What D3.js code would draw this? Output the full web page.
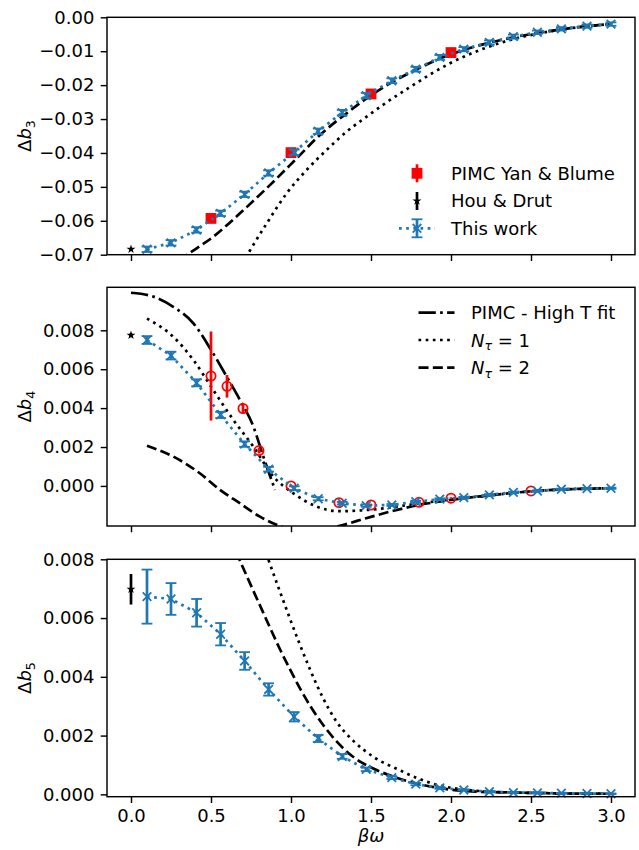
<!DOCTYPE html>
<html>
<head>
<meta charset="utf-8">
<script src="https://cdn.jsdelivr.net/npm/d3@7"></script>
<style>
  body { margin: 0; background: #fff; }
  svg { display: block; font-family: "DejaVu Sans", sans-serif; }
</style>
</head>
<body>
<svg id="chart" width="639" height="850"></svg>
<script>
// --- data ---
var betaOmega = [0.1, 0.25, 0.41, 0.56, 0.71, 0.86, 1.02, 1.17, 1.32, 1.47, 1.63, 1.78, 1.93, 2.08, 2.24, 2.39, 2.54, 2.69, 2.85, 3.0];

var thisWorkB3 = [-0.0684, -0.0665, -0.0627, -0.0578, -0.0522, -0.0459, -0.0398, -0.0336, -0.0281, -0.0231, -0.0187, -0.0153, -0.0118, -0.0094, -0.0074, -0.0057, -0.0044, -0.0034, -0.0026, -0.0020];
var thisWorkB3Err = [0.0008, 0.0008, 0.0008, 0.0008, 0.0008, 0.0008, 0.0008, 0.0008, 0.0008, 0.0008, 0.0007, 0.0007, 0.0007, 0.0006, 0.0006, 0.0006, 0.0005, 0.0005, 0.0005, 0.0005];
var thisWorkB4 = [0.0075, 0.0067, 0.0053, 0.00365, 0.00215, 0.00086, -0.00012, -0.00066, -0.00089, -0.00101, -0.00098, -0.00081, -0.00068, -0.0006, -0.00046, -0.00033, -0.00026, -0.00017, -0.00014, -0.00012];
var thisWorkB4Err = [0.0002, 0.0002, 0.00018, 0.00016, 0.00014, 0.00012, 0.0001, 0.00008, 0.00007, 0.00006, 0.00005, 0.00005, 0.00004, 0.00004, 0.00004, 0.00003, 0.00003, 0.00003, 0.00003, 0.00003];
var thisWorkB5 = [0.00673, 0.00665, 0.00618, 0.00545, 0.00454, 0.00357, 0.00264, 0.0019, 0.00129, 0.00085, 0.00057, 0.00035, 0.00022, 0.00015, 0.00009, 0.00006, 0.00005, 0.00004, 0.00003, 0.00002];
var thisWorkB5Err = [0.00092, 0.00054, 0.00047, 0.00038, 0.0003, 0.00021, 0.00016, 0.00012, 0.00008, 0.00006, 0.00005, 0.00004, 0.00003, 0.00002, 0.00002, 0.00001, 0.00001, 0.00001, 0.00001, 0.00001];

// Hou & Drut (beta omega = 0)
var houX = [0];
var houB3 = [-0.0684], houB3Err = [0.0003];
var houB4 = [0.00775], houB4Err = [0.0001];
var houB5 = [0.00698], houB5Err = [0.00052];

// PIMC Yan & Blume
var pimcX3 = [0.5, 1.0, 1.5, 2.0];
var pimcB3 = [-0.0593, -0.0399, -0.0226, -0.0104];
var pimcB3Err = [0.0003, 0.0003, 0.0003, 0.0003];
var pimcX4 = [0.5, 0.6, 0.7, 0.8, 1.0, 1.3, 1.5, 1.8, 2.0, 2.5];
var pimcB4 = [0.00565, 0.00512, 0.00398, 0.00182, 0.0, -0.00086, -0.00098, -0.00084, -0.00063, -0.00026];
var pimcB4Err = [0.00229, 0.00058, 0.00025, 0.00015, 0.00006, 0.00005, 0.00005, 0.00005, 0.00005, 0.00005];

// PIMC - High T fit (b4)
var fitX4 = [0.0, 0.14, 0.264, 0.39, 0.494, 0.598, 0.681, 0.765, 0.827, 0.9];
var fitB4 = [0.00993, 0.00973, 0.00921, 0.00836, 0.00708, 0.00562, 0.00442, 0.00305, 0.00151, -0.0002];

// N_tau = 1
var nt1X3 = [0.65, 0.733, 0.848, 0.973, 1.098, 1.223, 1.348, 1.473, 1.6, 1.75, 1.9, 2.0, 2.2, 2.4, 2.6, 2.8, 3.0];
var nt1B3 = [-0.0765, -0.0696, -0.0608, -0.0519, -0.045, -0.0391, -0.0337, -0.0293, -0.025, -0.0204, -0.016, -0.0134, -0.0093, -0.0063, -0.0043, -0.0029, -0.0020];
var nt1X4 = [0.1, 0.264, 0.39, 0.514, 0.64, 0.765, 0.89, 1.015, 1.16, 1.3, 1.5, 1.8, 2.0, 2.2, 2.5, 2.8, 3.0];
var nt1B4 = [0.0086, 0.00767, 0.00647, 0.00493, 0.00339, 0.00202, 0.00048, -0.00038, -0.00106, -0.0013, -0.00122, -0.0009, -0.0007, -0.00052, -0.00028, -0.00015, -0.00012];
var nt1X5 = [0.8, 0.858, 0.931, 0.994, 1.056, 1.119, 1.2, 1.285, 1.39, 1.514, 1.68, 1.785, 1.93, 2.1, 2.3, 2.5, 2.7, 3.0];
var nt1B5 = [0.0089, 0.008, 0.0069, 0.00597, 0.00509, 0.00425, 0.00328, 0.00247, 0.00182, 0.00128, 0.00082, 0.00056, 0.0003, 0.00015, 0.00008, 0.00005, 0.00003, 0.00002];

// N_tau = 2
var nt2X3 = [0.3, 0.369, 0.514, 0.681, 0.848, 1.015, 1.181, 1.348, 1.473, 1.6, 1.75, 1.9, 2.08, 2.24, 2.4, 2.6, 2.8, 3.0];
var nt2B3 = [-0.0716, -0.0694, -0.0647, -0.0578, -0.0504, -0.0426, -0.0347, -0.0283, -0.0239, -0.02, -0.0162, -0.0128, -0.0096, -0.0075, -0.0058, -0.0042, -0.0029, -0.002];
var nt2X4 = [0.1, 0.264, 0.43, 0.556, 0.68, 0.806, 0.93, 1.1, 1.3, 1.47, 1.62, 1.8, 2.0, 2.2, 2.5, 2.8, 3.0];
var nt2B4 = [0.00206, 0.00151, 0.00065, -0.0002, -0.00089, -0.00158, -0.00206, -0.00235, -0.00206, -0.00166, -0.00132, -0.00098, -0.00072, -0.00052, -0.00028, -0.00015, -0.00012];
var nt2X5 = [0.62, 0.677, 0.744, 0.806, 0.869, 0.931, 0.994, 1.056, 1.119, 1.2, 1.285, 1.39, 1.514, 1.63, 1.785, 1.93, 2.1, 2.3, 2.5, 2.7, 3.0];
var nt2B5 = [0.0087, 0.008, 0.00718, 0.00643, 0.00567, 0.00494, 0.00425, 0.00361, 0.00302, 0.00237, 0.0018, 0.00127, 0.00088, 0.00062, 0.00037, 0.00021, 0.00011, 0.00007, 0.00005, 0.00003, 0.00002];

var xTicks = [0.0, 0.5, 1.0, 1.5, 2.0, 2.5, 3.0];
var yTicks3 = [0.00, -0.01, -0.02, -0.03, -0.04, -0.05, -0.06, -0.07];
var yTicks4 = [0.000, 0.002, 0.004, 0.006, 0.008];
var yTicks5 = [0.000, 0.002, 0.004, 0.006, 0.008];

// --- styles (pt -> px at ~130 dpi) ---
var blue = '#1f77b4', red = '#ff0000';
var lw = 2.7;
var dotted = '2.7,4.46', dashed = '10,4.32', dashdot = '17.3,4.3,2.7,4.3';
var fontSize = 18;
var xHalf = 4.3, starR = 4.7;

var svg = d3.select('#chart');
var x = d3.scaleLinear().domain([-0.15, 3.15]).range([107, 635]);

function starPath(R) {
  var r = R * 0.382, p = [];
  for (var i = 0; i < 10; i++) {
    var a = -Math.PI / 2 + i * Math.PI / 5, rr = i % 2 ? r : R;
    p.push([rr * Math.cos(a), rr * Math.sin(a)]);
  }
  return 'M' + p.join('L') + 'Z';
}
function crossPath(h) {
  return 'M' + (-h) + ',' + (-h) + 'L' + h + ',' + h + 'M' + (-h) + ',' + h + 'L' + h + ',' + (-h);
}

function makePanel(id, top, bottom, domain, ticks, fmt, showX) {
  var y = d3.scaleLinear().domain(domain).range([bottom, top]);
  var g = svg.append('g');
  svg.append('clipPath').attr('id', 'clip' + id)
    .append('rect').attr('x', x.range()[0]).attr('y', top)
    .attr('width', x.range()[1] - x.range()[0]).attr('height', bottom - top);

  var yAxis = g.append('g').attr('transform', 'translate(' + x.range()[0] + ',0)')
    .call(d3.axisLeft(y).tickValues(ticks).tickFormat(d3.format(fmt))
      .tickSize(6.3).tickPadding(6.3).tickSizeOuter(0));
  var xAxis = g.append('g').attr('transform', 'translate(0,' + bottom + ')')
    .call(d3.axisBottom(x).tickValues(xTicks)
      .tickFormat(showX ? d3.format('.1f') : function() { return ''; })
      .tickSize(6.3).tickPadding(6.3).tickSizeOuter(0));
  [yAxis, xAxis].forEach(function(a) {
    a.select('.domain').remove();
    a.selectAll('line').attr('stroke', '#000').attr('stroke-width', 1.44);
    a.selectAll('text').attr('font-size', fontSize).attr('fill', '#000')
      .attr('font-family', '"DejaVu Sans", sans-serif');
  });

  var plot = g.append('g').attr('clip-path', 'url(#clip' + id + ')');
  var front = g.append('g');
  return { g: g, plot: plot, front: front, y: y, top: top, bottom: bottom };
}

function curve(p, xs, ys, dash) {
  var pts = xs.map(function(d, i) { return [d, ys[i]]; });
  p.plot.append('path').datum(pts)
    .attr('d', d3.line().x(function(d) { return x(d[0]); }).y(function(d) { return p.y(d[1]); })
      .curve(d3.curveMonotoneX))
    .attr('fill', 'none').attr('stroke', '#000').attr('stroke-width', lw)
    .attr('stroke-dasharray', dash);
}

function errorbars(p, xs, ys, errs, color, cap) {
  var g = p.front.append('g').attr('stroke', color);
  xs.forEach(function(d, i) {
    var cx = x(d), y0 = p.y(ys[i] - errs[i]), y1 = p.y(ys[i] + errs[i]);
    g.append('line').attr('x1', cx).attr('x2', cx).attr('y1', y0).attr('y2', y1).attr('stroke-width', lw);
    if (cap) {
      [y0, y1].forEach(function(yy) {
        g.append('line').attr('x1', cx - cap).attr('x2', cx + cap).attr('y1', yy).attr('y2', yy).attr('stroke-width', 1.8);
      });
    }
  });
}

function thisWork(p, ys, errs) {
  var pts = betaOmega.map(function(d, i) { return [d, ys[i]]; });
  p.front.append('path').datum(pts)
    .attr('d', d3.line().x(function(d) { return x(d[0]); }).y(function(d) { return p.y(d[1]); }))
    .attr('fill', 'none').attr('stroke', blue).attr('stroke-width', lw).attr('stroke-dasharray', dotted);
  errorbars(p, betaOmega, ys, errs, blue, 5.4);
  p.front.selectAll(null).data(pts).enter().append('path')
    .attr('transform', function(d) { return 'translate(' + x(d[0]) + ',' + p.y(d[1]) + ')'; })
    .attr('d', crossPath(xHalf)).attr('stroke', blue).attr('stroke-width', 1.8).attr('fill', 'none');
}

function hou(p, ys, errs) {
  errorbars(p, houX, ys, errs, '#000', 0);
  p.front.selectAll(null).data(houX).enter().append('path')
    .attr('transform', function(d, i) { return 'translate(' + x(d) + ',' + p.y(ys[i]) + ')'; })
    .attr('d', starPath(starR)).attr('fill', '#000');
}

function frame(p) {
  p.g.append('rect').attr('x', x.range()[0]).attr('y', p.top)
    .attr('width', x.range()[1] - x.range()[0]).attr('height', p.bottom - p.top)
    .attr('fill', 'none').attr('stroke', '#000').attr('stroke-width', 1.44);
}

function yLabel(p, sub) {
  var t = p.g.append('text').attr('transform', 'translate(31,' + (p.top + p.bottom) / 2 + ') rotate(-90)')
    .attr('text-anchor', 'middle').attr('font-size', fontSize);
  t.append('tspan').text('Δ');
  t.append('tspan').attr('font-style', 'italic').text('b');
  t.append('tspan').attr('font-size', 12.6).attr('dy', 3.8).text(sub);
}

// --- panel 1: Delta b3 ---
var p1 = makePanel(1, 17.3, 254.7, [-0.07, 0.0], yTicks3, '.2f', false);
curve(p1, nt1X3, nt1B3, dotted);
curve(p1, nt2X3, nt2B3, dashed);
errorbars(p1, pimcX3, pimcB3, pimcB3Err, red, 0);
p1.front.selectAll(null).data(pimcX3).enter().append('rect')
  .attr('x', function(d) { return x(d) - 5.4; })
  .attr('y', function(d, i) { return p1.y(pimcB3[i]) - 5.4; })
  .attr('width', 10.8).attr('height', 10.8).attr('fill', red);
hou(p1, houB3, houB3Err);
thisWork(p1, thisWorkB3, thisWorkB3Err);
frame(p1);
yLabel(p1, '3');

// --- panel 2: Delta b4 ---
var p2 = makePanel(2, 287.3, 526, [-0.00206, 0.01021], yTicks4, '.3f', false);
curve(p2, fitX4, fitB4, dashdot);
curve(p2, nt1X4, nt1B4, dotted);
curve(p2, nt2X4, nt2B4, dashed);
errorbars(p2, pimcX4, pimcB4, pimcB4Err, red, 0);
p2.front.selectAll(null).data(pimcX4).enter().append('circle')
  .attr('cx', function(d) { return x(d); })
  .attr('cy', function(d, i) { return p2.y(pimcB4[i]); })
  .attr('r', 4.6).attr('fill', 'none').attr('stroke', red).attr('stroke-width', 1.8);
hou(p2, houB4, houB4Err);
thisWork(p2, thisWorkB4, thisWorkB4Err);
frame(p2);
yLabel(p2, '4');

// --- panel 3: Delta b5 ---
var p3 = makePanel(3, 559.3, 796.7, [-0.00008, 0.008], yTicks5, '.3f', true);
curve(p3, nt1X5, nt1B5, dotted);
curve(p3, nt2X5, nt2B5, dashed);
hou(p3, houB5, houB5Err);
thisWork(p3, thisWorkB5, thisWorkB5Err);
frame(p3);
yLabel(p3, '5');

svg.append('text').attr('x', (x.range()[0] + x.range()[1]) / 2).attr('y', 842)
  .attr('text-anchor', 'middle').attr('font-size', fontSize).attr('font-style', 'italic')
  .text('βω');

// --- legend, panel 1 ---
var leg1 = svg.append('g').attr('font-size', fontSize);
var rows1 = [173.3, 201, 228.3];
var hx1 = 399, hw = 36;
leg1.append('line').attr('x1', hx1 + hw / 2).attr('x2', hx1 + hw / 2).attr('y1', rows1[0] - 9).attr('y2', rows1[0] + 9)
  .attr('stroke', red).attr('stroke-width', lw);
leg1.append('rect').attr('x', hx1 + hw / 2 - 5.4).attr('y', rows1[0] - 5.4).attr('width', 10.8).attr('height', 10.8).attr('fill', red);
leg1.append('line').attr('x1', hx1 + hw / 2).attr('x2', hx1 + hw / 2).attr('y1', rows1[1] - 9).attr('y2', rows1[1] + 9)
  .attr('stroke', '#000').attr('stroke-width', lw);
leg1.append('path').attr('transform', 'translate(' + (hx1 + hw / 2) + ',' + rows1[1] + ')').attr('d', starPath(starR)).attr('fill', '#000');
leg1.append('line').attr('x1', hx1).attr('x2', hx1 + hw).attr('y1', rows1[2]).attr('y2', rows1[2])
  .attr('stroke', blue).attr('stroke-width', lw).attr('stroke-dasharray', dotted);
leg1.append('line').attr('x1', hx1 + hw / 2).attr('x2', hx1 + hw / 2).attr('y1', rows1[2] - 9).attr('y2', rows1[2] + 9)
  .attr('stroke', blue).attr('stroke-width', lw);
[rows1[2] - 9, rows1[2] + 9].forEach(function(yy) {
  leg1.append('line').attr('x1', hx1 + hw / 2 - 5.4).attr('x2', hx1 + hw / 2 + 5.4).attr('y1', yy).attr('y2', yy)
    .attr('stroke', blue).attr('stroke-width', 1.8);
});
leg1.append('path').attr('transform', 'translate(' + (hx1 + hw / 2) + ',' + rows1[2] + ')').attr('d', crossPath(xHalf))
  .attr('stroke', blue).attr('stroke-width', 1.8);
['PIMC Yan & Blume', 'Hou & Drut', 'This work'].forEach(function(s, i) {
  leg1.append('text').attr('x', 451).attr('y', rows1[i]).attr('dy', '0.36em').text(s);
});

// --- legend, panel 2 ---
var leg2 = svg.append('g').attr('font-size', fontSize);
var rows2 = [312.7, 340, 367.7];
var hx2 = 418.5;
[dashdot, dotted, dashed].forEach(function(dash, i) {
  leg2.append('line').attr('x1', hx2).attr('x2', hx2 + hw).attr('y1', rows2[i]).attr('y2', rows2[i])
    .attr('stroke', '#000').attr('stroke-width', lw).attr('stroke-dasharray', dash);
});
leg2.append('text').attr('x', 471).attr('y', rows2[0]).attr('dy', '0.36em').text('PIMC - High T fit');
['1', '2'].forEach(function(n, i) {
  var t = leg2.append('text').attr('x', 471).attr('y', rows2[i + 1] + 6.5);
  t.append('tspan').attr('font-style', 'italic').text('N');
  t.append('tspan').attr('font-style', 'italic').attr('font-size', 12.6).attr('dy', 3.8).text('τ');
  t.append('tspan').attr('dy', -3.8).text(' = ' + n);
});
</script>
</body>
</html>
